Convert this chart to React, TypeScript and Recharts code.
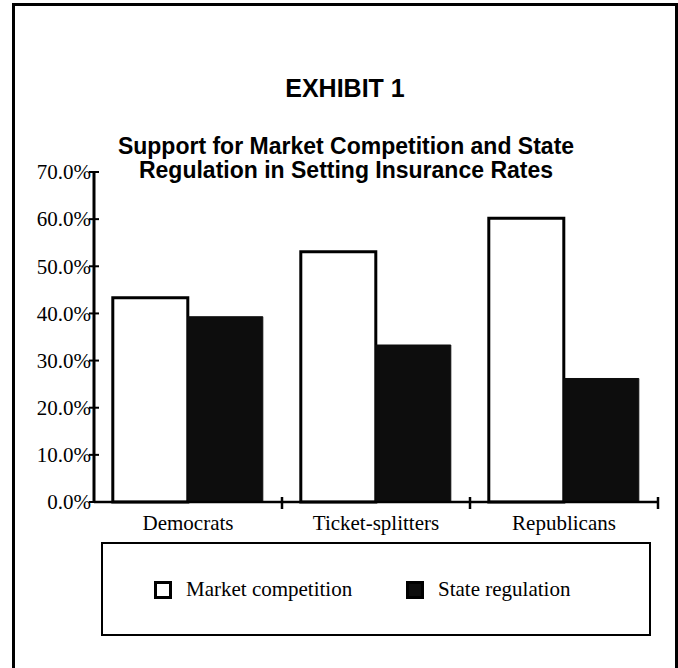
import React from 'react'
import { BarChart, Bar, XAxis, YAxis, Legend } from 'recharts'

const categories = ['Democrats', 'Ticket-splitters', 'Republicans']
const marketCompetition = [43.3, 53.1, 60.2]
const stateRegulation = [39.3, 33.3, 26.2]
const yTicks = [0, 10, 20, 30, 40, 50, 60, 70]
const seriesNames = ['Market competition', 'State regulation']

const data = categories.map((name, i) => ({
  name,
  market: marketCompetition[i],
  state: stateRegulation[i],
}))

const W = 678
const H = 668
const margin = { top: 172, right: 20, bottom: 136, left: 14 }
const Y_AXIS_W = 80
const plotW = W - margin.left - Y_AXIS_W - margin.right
const halfBand = plotW / categories.length / 2

const serif = '"Liberation Serif", "Times New Roman", serif'
const sans = '"Liberation Sans", Arial, sans-serif'

function YTick({ x, y, payload }: any) {
  return (
    <g>
      <line x1={x - 5} x2={x + 5} y1={y} y2={y} stroke="#000" strokeWidth={2} />
      <text x={x - 3} y={y} dy="0.35em" textAnchor="end" fontSize={21} fontFamily={serif} fill="#000">
        {`${Number(payload.value).toFixed(1)}%`}
      </text>
    </g>
  )
}

function XTick({ x, y, payload }: any) {
  return (
    <g>
      <line x1={x + halfBand} x2={x + halfBand} y1={y - 5} y2={y + 7} stroke="#000" strokeWidth={2.5} />
      <text x={x} y={y + 21} dy="0.35em" textAnchor="middle" fontSize={21} fontFamily={serif} fill="#000">
        {payload.value}
      </text>
    </g>
  )
}

function LegendBox({ payload }: any) {
  const items = payload ?? []
  const lefts = [51, 303]
  return (
    <div
      style={{
        position: 'relative',
        width: 550,
        height: 94,
        border: '2px solid #000',
        boxSizing: 'border-box',
        fontFamily: serif,
        fontSize: 21,
        color: '#000',
      }}
    >
      {items.map((entry: any, i: number) => (
        <div
          key={entry.value}
          style={{
            position: 'absolute',
            left: lefts[i] ?? 51 + i * 252,
            top: 35,
            display: 'flex',
            alignItems: 'center',
            lineHeight: '21px',
          }}
        >
          <span
            style={{
              display: 'inline-block',
              width: 18,
              height: 18,
              boxSizing: 'border-box',
              background: entry.color,
              border: '3px solid #000',
              marginRight: 14,
            }}
          />
          <span>{entry.value}</span>
        </div>
      ))}
    </div>
  )
}

export default function App() {
  return (
    <div
      style={{
        position: 'absolute',
        left: 0,
        top: 0,
        width: W,
        height: H,
        overflow: 'hidden',
        background: '#fff',
      }}
    >
      <div
        style={{
          position: 'absolute',
          left: 12,
          top: 3,
          width: 660,
          height: 720,
          border: '3px solid #000',
        }}
      />
      <div
        style={{
          position: 'absolute',
          left: 0,
          top: 76,
          width: 690,
          textAlign: 'center',
          fontFamily: sans,
          fontWeight: 'bold',
          fontSize: 25,
          lineHeight: '25px',
        }}
      >
        EXHIBIT 1
      </div>
      <div
        style={{
          position: 'absolute',
          left: 0,
          top: 134,
          width: 692,
          textAlign: 'center',
          fontFamily: sans,
          fontWeight: 'bold',
          fontSize: 23,
          lineHeight: '24px',
        }}
      >
        Support for Market Competition and State
        <br />
        Regulation in Setting Insurance Rates
      </div>
      <div style={{ position: 'absolute', left: 0, top: 0 }}>
        <BarChart
          width={W}
          height={H}
          data={data}
          margin={margin}
          barCategoryGap="10%"
          barGap={0}
        >
          <XAxis
            dataKey="name"
            height={30}
            axisLine={{ stroke: '#000', strokeWidth: 2.5 }}
            tickLine={false}
            tickSize={0}
            tickMargin={0}
            tick={<XTick />}
            interval={0}
          />
          <YAxis
            width={Y_AXIS_W}
            domain={[0, 70]}
            ticks={yTicks}
            axisLine={{ stroke: '#000', strokeWidth: 3 }}
            tickLine={false}
            tickSize={0}
            tickMargin={0}
            tick={<YTick />}
            interval={0}
          />
          <Legend
            layout="horizontal"
            verticalAlign="middle"
            align="center"
            wrapperStyle={{ position: 'absolute', left: 101, top: 542, width: 550, height: 94 }}
            content={<LegendBox />}
          />
          <Bar
            dataKey="market"
            name={seriesNames[0]}
            fill="#fff"
            stroke="#000"
            strokeWidth={3}
            isAnimationActive={false}
          />
          <Bar
            dataKey="state"
            name={seriesNames[1]}
            fill="#0d0d0d"
            stroke="#0d0d0d"
            strokeWidth={1}
            isAnimationActive={false}
          />
        </BarChart>
      </div>
    </div>
  )
}
